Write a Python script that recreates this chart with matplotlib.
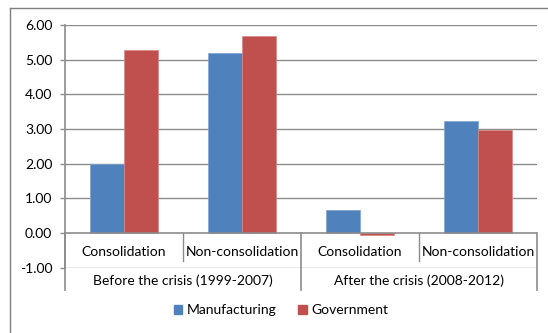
import matplotlib.pyplot as plt
from matplotlib.lines import Line2D
from matplotlib.patches import Patch
import numpy as np

plt.rcParams['font.family'] = ['Lato', 'DejaVu Sans']

# data
categories = ['Consolidation', 'Non-consolidation', 'Consolidation', 'Non-consolidation']
periods = ['Before the crisis (1999-2007)', 'After the crisis (2008-2012)']
manufacturing = [1.98, 5.20, 0.65, 3.22]
government = [5.29, 5.69, -0.07, 2.98]
yticks = [-1, 0, 1, 2, 3, 4, 5, 6]

blue = '#4F81BD'
red = '#C0504D'
grid = '#8C8C8C'
fs = 10

W, H = 548, 333
fig = plt.figure(figsize=(W / 100, H / 100), dpi=100)
ax = fig.add_axes([65 / W, 1 - 267.7 / H, (537 - 65) / W, (267.7 - 25) / H])

x = np.arange(len(categories)) + 0.5
bw = 0.284
ax.bar(x - bw / 2, manufacturing, bw, color=blue, edgecolor='#7FA3D3', linewidth=0.5, zorder=3)
ax.bar(x + bw / 2, government, bw, color=red, edgecolor='#D98785', linewidth=0.5, zorder=3)

ax.set_xlim(0, 4)
ax.set_ylim(-1, 6)
ax.set_yticks(yticks)
ax.set_yticklabels([f'{v:.2f}' for v in yticks], fontsize=fs)
ax.set_xticks([])
ax.tick_params(axis='y', length=3.6, width=1, color=grid, pad=5.5)
for t in yticks:
    if t != 0:
        ax.axhline(t, color=grid, lw=1, zorder=1)
ax.axhline(0, color=grid, lw=1.2, zorder=4)
for s in ['top', 'right', 'bottom']:
    ax.spines[s].set_visible(False)
ax.spines['left'].set_color(grid)
ax.spines['left'].set_linewidth(1.2)

# category axis (two levels)
for i, c in enumerate(categories):
    ax.text(x[i], -0.55, c, ha='center', va='center', fontsize=fs)
for d in [1, 3]:
    ax.plot([d, d], [0, -0.81], color=grid, lw=1, clip_on=False)
for d in [0, 2, 4]:
    ax.plot([d, d], [0, -1.65], color=grid, lw=1.2, clip_on=False)
for j, p in enumerate(periods):
    ax.text(1 + 2 * j, -1.39, p, ha='center', va='center', fontsize=fs)

# legend
handles = [Patch(color=blue, label='Manufacturing'), Patch(color=red, label='Government')]
fig.legend(handles=handles, loc='center', bbox_to_anchor=(281 / W, 1 - 310 / H), ncol=2,
           frameon=False, fontsize=fs, handlelength=0.6, handleheight=0.6,
           handletextpad=0.3, columnspacing=1.6)

# chart frame
fig.add_artist(Line2D([10 / W, 10 / W], [0, 1 - 8 / H], color='#7F7F7F', lw=1))
fig.add_artist(Line2D([10 / W, 1], [1 - 8 / H, 1 - 8 / H], color='#7F7F7F', lw=1))

fig.savefig('out.png', dpi=100)
